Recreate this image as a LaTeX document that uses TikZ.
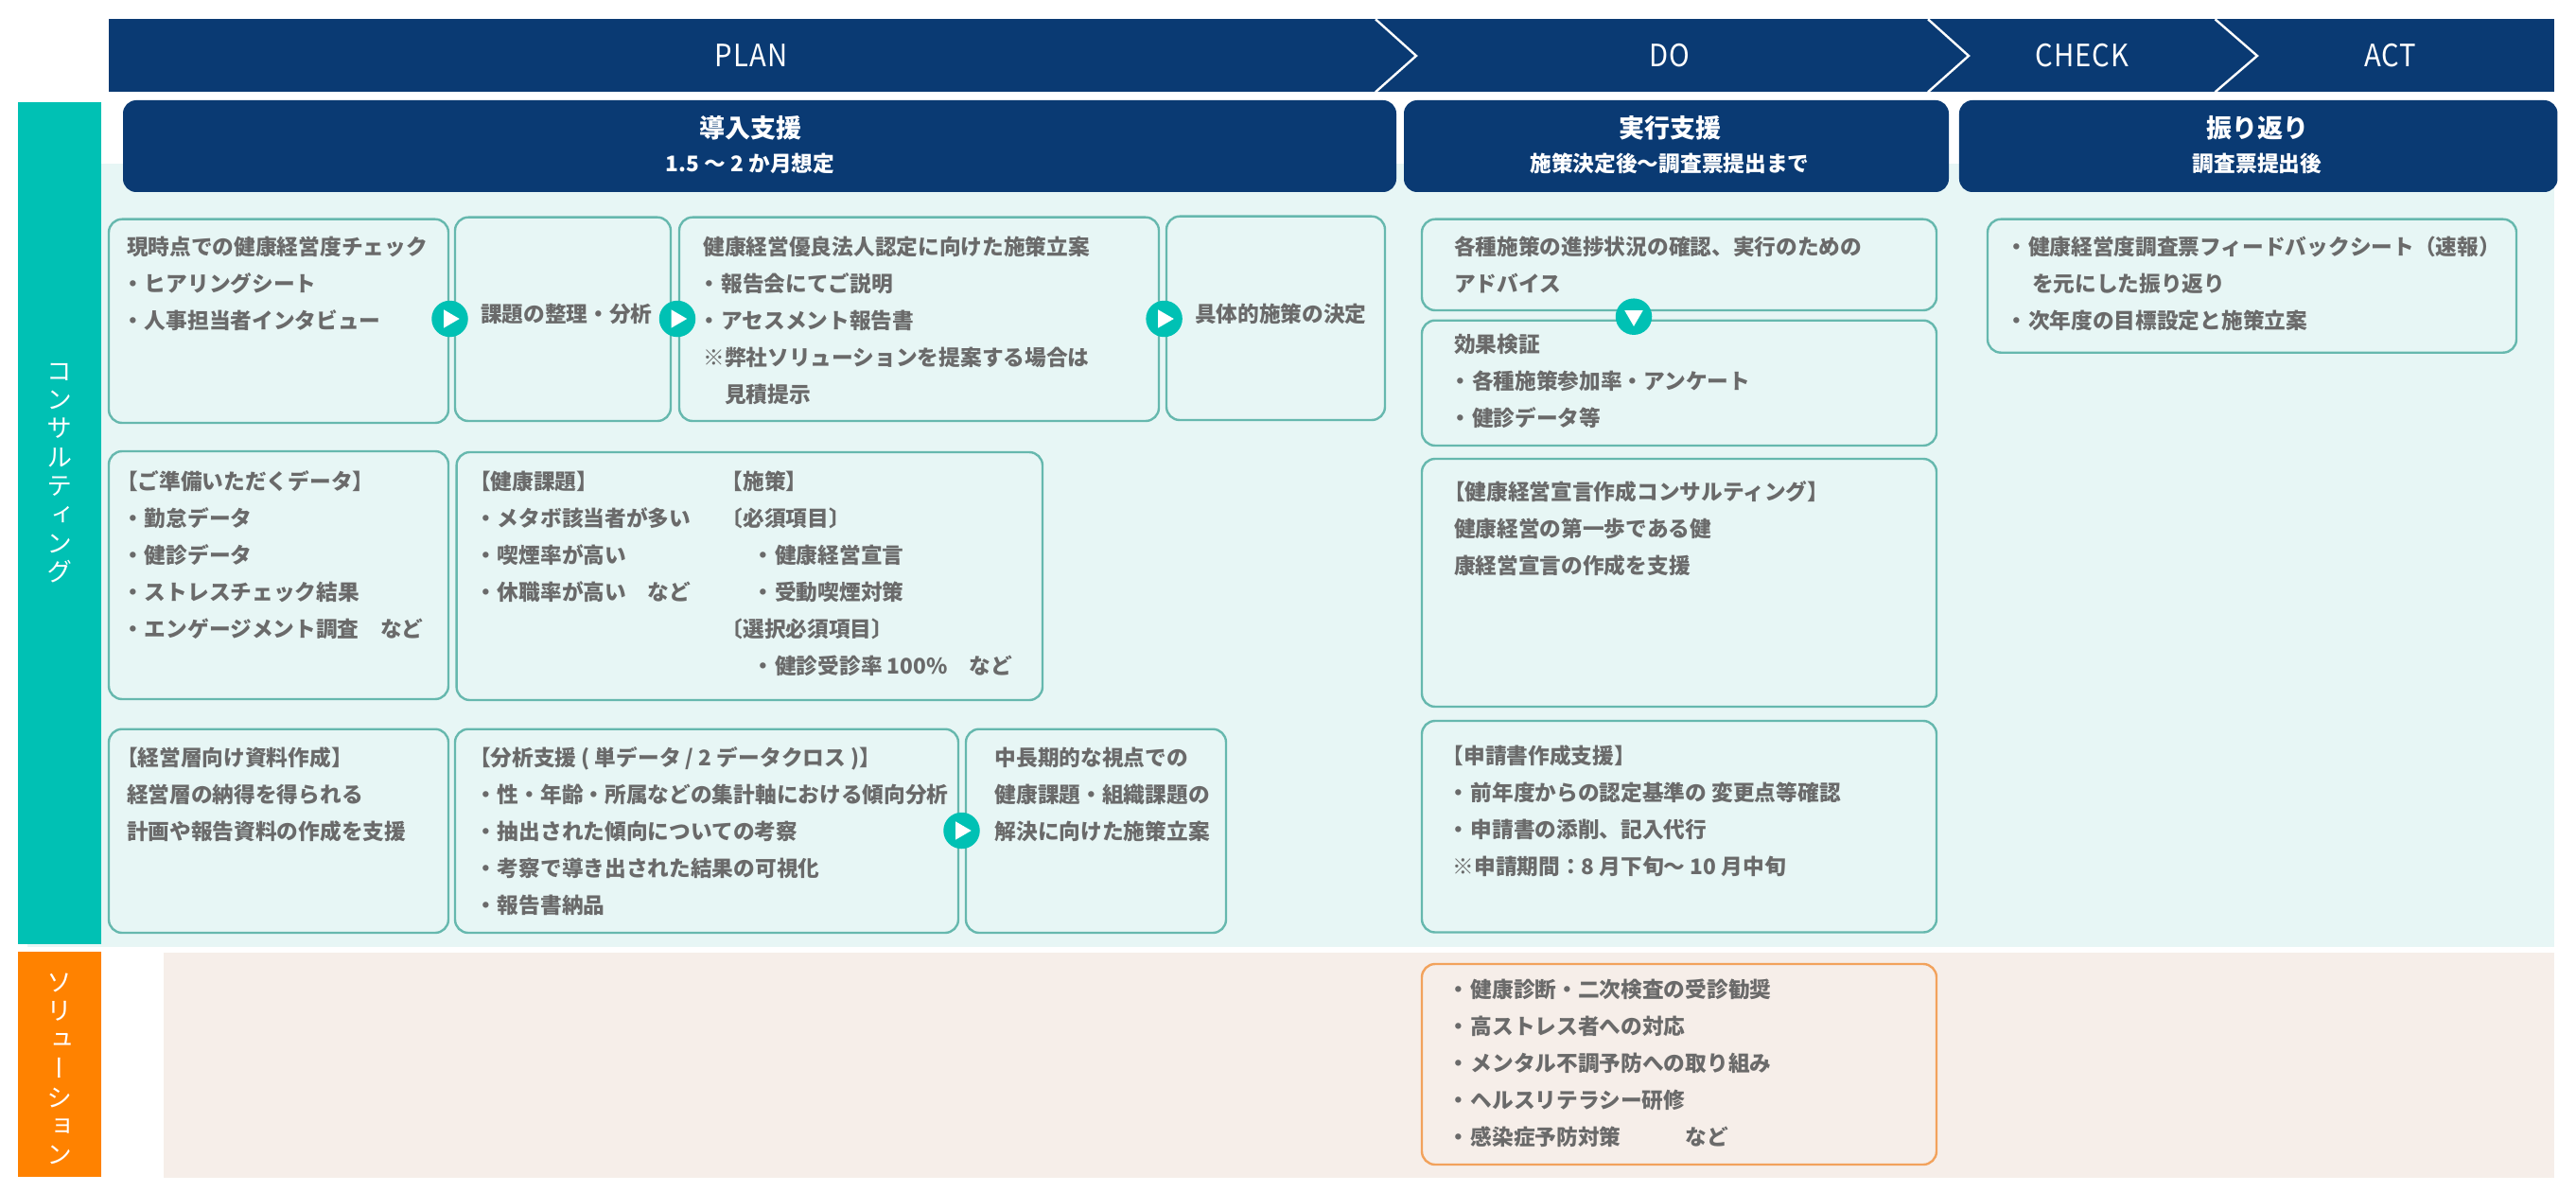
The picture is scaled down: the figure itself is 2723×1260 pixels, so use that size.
\documentclass[tikz,border=0pt]{standalone}
\usepackage{fontspec}
\setmainfont{Noto Sans CJK JP}
\newfontfamily\vertfont[RawFeature={+vert}]{Noto Sans CJK JP}
\newfontfamily\bandf[FakeStretch=0.9,LetterSpace=3]{Noto Sans CJK JP}
\definecolor{navy}{HTML}{0A3A73}
\definecolor{tealbar}{HTML}{00C1B4}
\definecolor{orangebar}{HTML}{FF8200}
\definecolor{tealbg}{HTML}{E7F6F5}
\definecolor{peachbg}{HTML}{F6EEE9}
\definecolor{tealline}{HTML}{66B8AE}
\definecolor{orangeline}{HTML}{F2A25C}
\definecolor{graytext}{HTML}{6A6A6A}
\tikzset{
  boxbase/.style={draw,line width=2.4pt,rounded corners=14pt,inner sep=0pt,outer sep=0pt},
  tealbox/.style={boxbase,draw=tealline,fill=tealbg},
  orangebox/.style={boxbase,draw=orangeline,fill=peachbg},
  bodytxt/.style={anchor=north west,inner sep=0pt,outer sep=0pt,align=left,text=graytext,
    font=\fontsize{22.7}{39.1}\selectfont\bfseries},
  hdr/.style={draw=none,fill=navy,rounded corners=14pt,inner sep=0pt,outer sep=0pt},
  bandtxt/.style={anchor=base,inner sep=0pt,text=white,font=\bandf\fontsize{32.5}{36}\selectfont},
  titletxt/.style={anchor=base,inner sep=0pt,text=white,font=\fontsize{27}{30}\selectfont\bfseries},
  subtxt/.style={anchor=base,inner sep=0pt,text=white,font=\fontsize{22.7}{26}\selectfont\bfseries},
  vtxt/.style={anchor=north,inner sep=0pt,align=center,text=white,font=\fontsize{27}{30.4}\selectfont\vertfont},
  chev/.style={draw=white,line width=2.4pt,line join=miter},
  playdot/.style={circle,fill=tealbar,minimum size=38.5pt,inner sep=0pt,outer sep=0pt},
  sidebar/.style={minimum width=88pt,inner sep=0pt,outer sep=0pt},
}
\newcommand\sr{\rule{0pt}{26pt}}
\newcommand\srv{\rule{0pt}{30pt}}
\newcommand\bl{\makebox[19pt][l]{\hspace{-5pt}・}}
\newcommand\ob{\hspace*{-11pt}}
% name, style, x1,y1,x2,y2, text x, first-line centre y, text
\newcommand\tbx[9]{%
  \node[#2,minimum width={(#5-#3)*1pt},minimum height={(#6-#4)*1pt}] (#1) at ({(#3+#5)/2},{(#4+#6)/2}) {};
  \node[bodytxt] (#1t) at (#7,{#8-16.6}) {\sr #9};
}
\newcommand\playr[3]{%
  \node[playdot] (#1) at (#2,#3) {};
  \fill[white] (#2-6.5,#3-9.7) -- (#2+10.2,#3) -- (#2-6.5,#3+9.7) -- cycle;
}
\newcommand\playd[3]{%
  \node[playdot] (#1) at (#2,#3) {};
  \fill[white] (#2-9.7,#3-6.5) -- (#2+9.7,#3-6.5) -- (#2,#3+10.2) -- cycle;
}
\begin{document}
\begin{tikzpicture}[x=1pt,y=-1pt]
\useasboundingbox (0,0) rectangle (2723,1260);
% backgrounds
\fill[tealbg] (29,173) rectangle (2700,1000.7);
\fill[peachbg] (173,1007) rectangle (2700,1245);
\node[sidebar,fill=tealbar,minimum height=890pt] (sideA) at (63,553) {};
\node[sidebar,fill=orangebar,minimum height=238pt] (sideB) at (63,1125) {};
\node[vtxt] (sideAt) at (63,{391.7+0.38*27-30}) {\srv コ\\ン\\サ\\ル\\テ\\ィ\\ン\\グ};
\node[vtxt] (sideBt) at (63,{1038+0.38*27-30}) {\srv ソ\\リ\\ュ\\ー\\シ\\ョ\\ン};
% PDCA band
\fill[navy] (115,20.3) rectangle (2700,97.3);
\draw[chev] (1454,20.3) -- (1497,59) -- (1454,97.3);
\draw[chev] (2038,20.3) -- (2081,59) -- (2038,97.3);
\draw[chev] (2341.5,20.3) -- (2386,59) -- (2341.5,97.3);
\node[bandtxt] (plan) at (794,70.7) {PLAN};
\node[bandtxt] (do) at (1765,70.7) {DO};
\node[bandtxt] (check) at (2201,70.7) {CHECK};
\node[bandtxt] (act) at (2527,70.7) {ACT};
% phase headers
\node[hdr,minimum width=1346pt,minimum height=97pt] (h1) at (803,154.5) {};
\node[hdr,minimum width=576pt,minimum height=97pt] (h2) at (1772,154.5) {};
\node[hdr,minimum width=632.5pt,minimum height=97pt] (h3) at (2387.2,154.5) {};
\node[titletxt] (h1a) at (793,145.3) {導入支援};
\node[subtxt] (h1b) at (793,181.6) {1.5 ～ 2 か月想定};
\node[titletxt] (h2a) at (1765,145.3) {実行支援};
\node[subtxt] (h2b) at (1765,181.6) {施策決定後～調査票提出まで};
\node[titletxt] (h3a) at (2386,145.3) {振り返り};
\node[subtxt] (h3b) at (2386,181.6) {調査票提出後};
% row 1
\tbx{a}{tealbox}{115}{231.7}{474}{447}{134}{260}{現時点での健康経営度チェック\\\bl ヒアリングシート\\\bl 人事担当者インタビュー}
\tbx{b}{tealbox}{481}{229.7}{709}{445}{508}{330.7}{課題の整理・分析}
\tbx{c}{tealbox}{718}{229.7}{1225}{445}{743.4}{260}{健康経営優良法人認定に向けた施策立案\\\bl 報告会にてご説明\\\bl アセスメント報告書\\※弊社ソリューションを提案する場合は\\　見積提示}
\tbx{d}{tealbox}{1233}{228.7}{1464}{444}{1263}{330.7}{具体的施策の決定}
\tbx{e}{tealbox}{1503}{231.7}{2047}{328}{1537}{260}{各種施策の進捗状況の確認、実行のための\\アドバイス}
\tbx{f}{tealbox}{1503}{338.7}{2047}{471}{1537}{363}{効果検証\\\bl 各種施策参加率・アンケート\\\bl 健診データ等}
\tbx{g}{tealbox}{2101}{231.7}{2660}{372.7}{2125}{260}{\bl 健康経営度調査票フィードバックシート（速報）\\\hspace*{23pt}を元にした振り返り\\\bl 次年度の目標設定と施策立案}
% row 2
\tbx{h}{tealbox}{115}{477}{474}{739}{134}{508}{\ob【ご準備いただくデータ】\\\bl 勤怠データ\\\bl 健診データ\\\bl ストレスチェック結果\\\bl エンゲージメント調査　など}
\tbx{i}{tealbox}{482.6}{478}{1102}{740}{507}{508}{\ob【健康課題】\\\bl メタボ該当者が多い\\\bl 喫煙率が高い\\\bl 休職率が高い　など}
\node[bodytxt] (i2t) at (773.7,491.4) {\sr\ob【施策】\\\ob〔必須項目〕\\\hspace*{26.5pt}\bl 健康経営宣言\\\hspace*{26.5pt}\bl 受動喫煙対策\\\ob〔選択必須項目〕\\\hspace*{26.5pt}\bl 健診受診率 100\%　など};
% row 3
\tbx{j}{tealbox}{115}{770.7}{474}{986}{134}{800}{\ob【経営層向け資料作成】\\経営層の納得を得られる\\計画や報告資料の作成を支援}
\tbx{k}{tealbox}{481}{770.7}{1013}{986}{507}{800}{\ob【分析支援 ( 単データ / 2 データクロス )】\\\bl 性・年齢・所属などの集計軸における傾向分析\\\bl 抽出された傾向についての考察\\\bl 考察で導き出された結果の可視化\\\bl 報告書納品}
\tbx{l}{tealbox}{1021}{770.7}{1296}{986}{1051.7}{800}{中長期的な視点での\\健康課題・組織課題の\\解決に向けた施策立案}
% DO column
\tbx{m}{tealbox}{1503}{485}{2047}{747}{1537}{518.7}{\ob【健康経営宣言作成コンサルティング】\\健康経営の第一歩である健\\康経営宣言の作成を支援}
\tbx{n}{tealbox}{1503}{762}{2047}{985.5}{1535.6}{797.8}{\ob【申請書作成支援】\\\bl 前年度からの認定基準の 変更点等確認\\\bl 申請書の添削、記入代行\\※申請期間：8 月下旬～ 10 月中旬}
\tbx{o}{orangebox}{1503}{1019}{2047}{1231}{1535.6}{1045}{\bl 健康診断・二次検査の受診勧奨\\\bl 高ストレス者への対応\\\bl メンタル不調予防への取り組み\\\bl ヘルスリテラシー研修\\\bl 感染症予防対策　　　など}
% flow markers
\playr{p1}{475.5}{337}
\playr{p2}{716}{337}
\playr{p3}{1230.6}{337}
\playr{p4}{1016.5}{878}
\playd{p5}{1727}{334.7}
\end{tikzpicture}
\end{document}
